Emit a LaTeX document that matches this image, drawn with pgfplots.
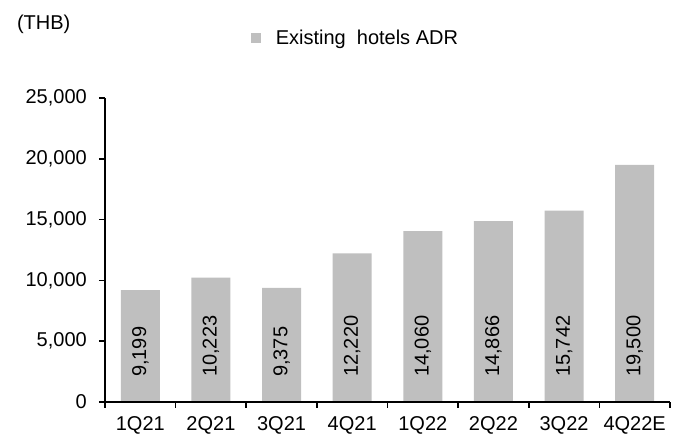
\documentclass[border=0pt]{standalone}
\usepackage{pgfplots}
\pgfplotsset{compat=1.18}
\usepackage{fontspec}
\setmainfont{Liberation Sans}
\definecolor{bargray}{RGB}{191,191,191}
\newcommand{\chartfont}{\fontsize{20}{24}\selectfont}
\begin{document}
\begin{tikzpicture}
\path[use as bounding box] (-105pt,-33pt) rectangle (578pt,402pt);
\begin{axis}[
  at={(0pt,0pt)}, anchor=south west,
  scale only axis, width=565pt, height=304pt,
  xmin=-0.5, xmax=7.5, ymin=0, ymax=25000,
  axis x line*=bottom, axis y line*=left,
  axis line style={line width=1.6pt, -},
  axis on top=true, clip=false,
  xtick={0,...,7},
  xticklabels={1Q21,2Q21,3Q21,4Q21,1Q22,2Q22,3Q22,4Q22E},
  major x tick style={draw=none},
  minor xtick={-0.5,0.5,...,7.5},
  ytick={0,5000,...,25000},
  tick align=outside,
  major tick length=6pt, minor tick length=6pt,
  tick style={black, line width=1.6pt},
  scaled y ticks=false,
  /pgf/number format/1000 sep={,},
  /pgf/number format/assume math mode=true,
  tick label style={font=\chartfont},
  yticklabel style={inner sep=0pt, xshift=-12pt},
  xticklabel style={inner sep=0pt, yshift=-8pt},
  legend style={at={(axis description cs:0.258,1.197)}, anchor=west, draw=none, fill=none,
    inner sep=0pt, outer sep=0pt, font=\chartfont,
    /tikz/every odd column/.append style={column sep=13pt}},
  legend image code/.code={\fill[bargray] (0pt,-5pt) rectangle (10pt,5pt);},
]
\addplot[ybar, bar width=39pt, fill=bargray, draw=none]
  coordinates {(0,9199) (1,10223) (2,9375) (3,12220) (4,14060) (5,14866) (6,15742) (7,19500)};
\addlegendentry{Existing\ \ hotels ADR}
\addplot[draw=none, mark=none, forget plot, nodes near coords, point meta=explicit,
  nodes near coords style={rotate=90, anchor=west, inner sep=0pt, font=\chartfont, black}]
  coordinates {(0,2050) [9199] (1,2050) [10223] (2,2050) [9375] (3,2050) [12220]
               (4,2050) [14060] (5,2050) [14866] (6,2050) [15742] (7,2050) [19500]};
\node[anchor=west, inner sep=0pt, font=\chartfont] at (axis description cs:-0.156,1.243) {(THB)};
\end{axis}
\end{tikzpicture}
\end{document}
